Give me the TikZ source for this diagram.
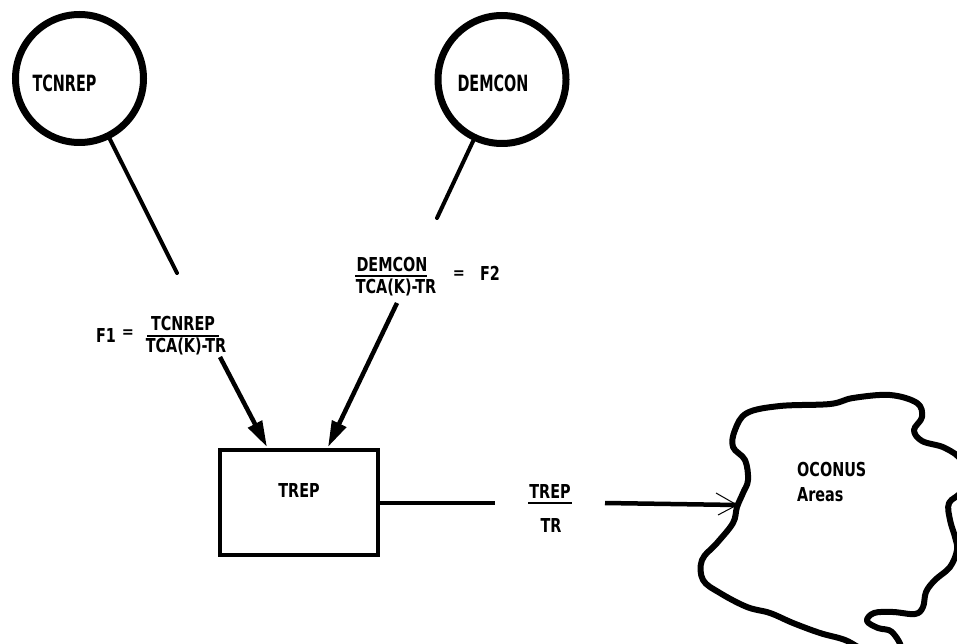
\documentclass[tikz,border=0pt]{standalone}
\usepackage{fontspec}
\setmainfont{DejaVu Sans Condensed}[BoldFont={DejaVu Sans Condensed Bold}]
\usetikzlibrary{arrows.meta}
\newcommand\txtall[1]{\scalebox{1}[1.4]{#1}}
\newcommand\txmid[1]{\scalebox{1}[1.2]{#1}}
\begin{document}
\begin{tikzpicture}[x=1pt,y=-1pt,
  lbl/.style={font=\fontsize{16}{18}\selectfont\bfseries, inner sep=0pt},
  srcnode/.style={circle, draw, line width=7pt, minimum size=128pt, inner sep=0pt},
  boxnode/.style={draw, line width=4pt, minimum width=158pt, minimum height=105pt, inner sep=0pt},
  conn/.style={line width=4pt, line cap=round},
  flow/.style={line width=4.5pt, -{Triangle[length=26pt,width=15pt]}},
  bar/.style={line width=2pt},
  cloudline/.style={line width=6pt, line join=round}
]
\useasboundingbox (0,0) rectangle (957,644);
\clip (0,0) rectangle (957,644);

% source circles
\node[srcnode] (c1) at (79.5,78.5) {};
\node[lbl] (t1) at (64.5,83) {\txtall{TCNREP}};
\node[srcnode] (c2) at (502,79.5) {};
\node[lbl] (t2) at (493,83) {\txtall{DEMCON}};

% free ends of the circle lines
\coordinate (e1) at (177,273);
\coordinate (e2) at (437,218);
\draw[conn] (c1) -- (e1);
\draw[conn] (c2) -- (e2);

% F1 label
\node[lbl] (f1) at (106,335) {\txmid{F1}};
\node[lbl] (eq1) at (128,334) {=};
\node[lbl] (n1) at (183,324) {\txmid{TCNREP}};
\node[lbl] (d1) at (186,346) {\txmid{TCA(K)-TR}};
\draw[bar] (147,336) -- (219,336);

% F2 label
\node[lbl] (n2) at (392,265) {\txmid{DEMCON}};
\node[lbl] (d2) at (396,287) {\txmid{TCA(K)-TR}};
\draw[bar] (355,276) -- (427,276);
\node[lbl] (eq2) at (459,275) {=};
\node[lbl] (f2) at (490,273) {\txmid{F2}};

% box
\node[boxnode] (box) at (299,502.5) {};
\node[lbl] (tb) at (299,490) {\txmid{TREP}};

% arrows into box
\coordinate (a1s) at (220,357);
\coordinate (a1e) at (267,447);
\coordinate (a2s) at (397,303);
\coordinate (a2e) at (328,447);
\draw[flow] (a1s) -- (a1e);
\draw[flow] (a2s) -- (a2e);

% TREP/TR
\coordinate (h1) at (495,503);
\draw[conn, line cap=butt] (box.east |- 0,503) -- (h1);
\node[lbl] (n3) at (550,491) {\txmid{TREP}};
\node[lbl] (d3) at (551,525) {\txmid{TR}};
\draw[bar] (528,503) -- (572,503);
\coordinate (h2) at (605,503);
\coordinate (cin) at (737,505);
\draw[line width=4.5pt] (h2) -- (cin);
\draw[line width=1pt] (716,493) -- (737,505) -- (718,515);

% cloud
\draw[cloudline] plot[smooth cycle, tension=0.6] coordinates {
 (747,413) (780,406) (830,404) (853,398) (890,395) (917,403) (922,417)
 (914,430) (922,441) (945,448) (962,462) (962,490) (949,503) (950,520)
 (955,537) (957,550) (950,567) (935,580) (926,592) (923,607) (915,614)
 (893,612) (874,613) (867,621) (878,628) (892,632) (900,650) (870,652)
 (845,640) (820,633) (793,623) (770,613) (747,607) (720,593) (703,580)
 (702,560) (717,543) (733,523) (737,507) (743,493) (748,480) (745,460)
 (733,447) (735,430)};
\node[lbl, anchor=west] (oc) at (797,470) {\txmid{OCONUS}};
\node[lbl, anchor=west] (ar) at (797,495) {\txmid{Areas}};
\end{tikzpicture}
\end{document}
